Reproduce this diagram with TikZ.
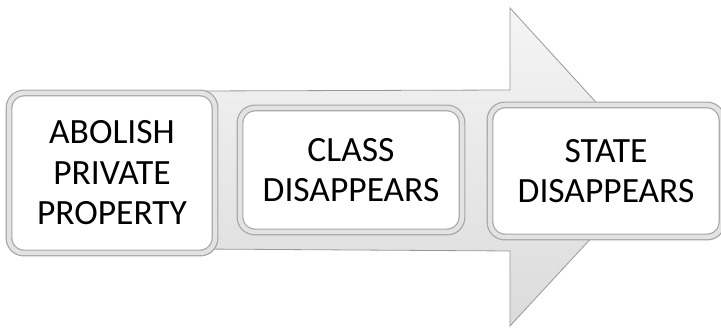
\documentclass[tikz,border=0pt]{standalone}
\usepackage{fontspec}
\setmainfont{Carlito}
\usetikzlibrary{positioning,shadows}

\begin{document}
\begin{tikzpicture}[
    x=1pt, y=-1pt,
    stagebox/.style={
        rectangle,
        draw=gray!70,
        double=gray!22,
        double distance=4.5pt,
        line width=1.2pt,
        rounded corners=15pt,
        fill=white,
        align=center,
        inner sep=0pt,
        font=\fontsize{35.5}{40.5}\selectfont,
        drop shadow={opacity=0.4, shadow xshift=2pt, shadow yshift=-3pt}
    },
    bigarrow/.style={
        draw=gray!80,
        line width=0.8pt,
        top color=gray!8,
        bottom color=gray!28,
        line join=miter
    }
]
\useasboundingbox (0,0) rectangle (721,331);

% Flecha de fondo
\path[bigarrow] (200,91) -- (510,90) -- (510,8) -- (656,168)
    -- (510,326) -- (510,251) -- (200,249) -- cycle;

% Etapas
\node[stagebox, minimum width=206pt, minimum height=160pt] (abolish)
    at (112,173) {ABOLISH\\PRIVATE\\PROPERTY};
\node[stagebox, minimum width=222pt, minimum height=124pt] (class)
    at (351,170) {CLASS\\DISAPPEARS};
\node[stagebox, minimum width=232pt, minimum height=132pt] (state)
    at (606,171) {STATE\\DISAPPEARS};

\end{tikzpicture}
\end{document}
